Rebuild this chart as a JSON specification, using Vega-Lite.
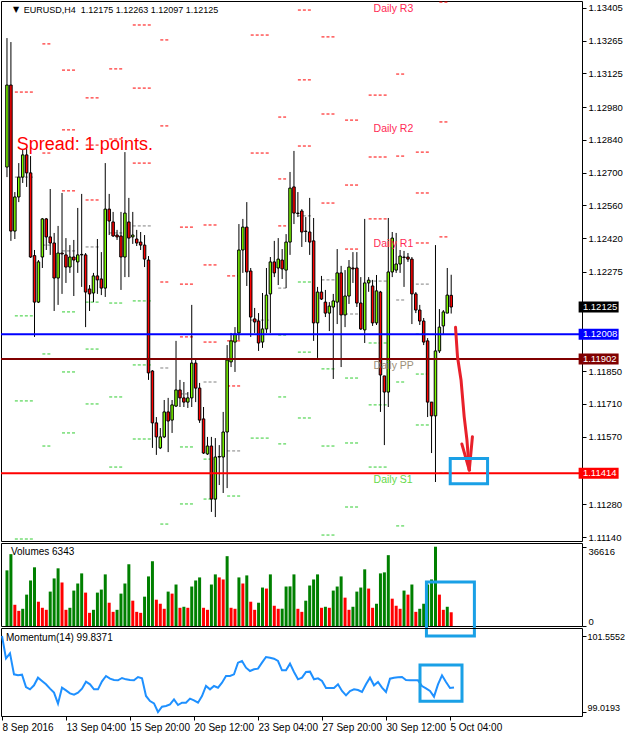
{
"$schema":"https://vega.github.io/schema/vega-lite/v6.json",
"background":"white",
"padding":{"left":-3,"top":0,"right":0,"bottom":0},
"bounds":"flush",
"spacing":2,
"config":{"view":{"stroke":"#000000","strokeWidth":1},"axis":{"labelFont":"Liberation Sans","labelFontSize":9.5,"labelColor":"#000000","tickColor":"#000000","domain":false,"grid":false,"tickSize":4,"labelPadding":2,"title":null},"text":{"font":"Liberation Sans"}},
"datasets":{
"bars":[
{"i":0,"o":1.12724,"h":1.13276,"l":1.12681,"c":1.13075,"v":25700,"u":1,"m":101.5552},
{"i":1,"o":1.13075,"h":1.13259,"l":1.12408,"c":1.12450,"v":33190,"u":1,"m":100.8101},
{"i":2,"o":1.12450,"h":1.12617,"l":1.12416,"c":1.12596,"v":9800,"u":0,"m":100.9769},
{"i":3,"o":1.12596,"h":1.12741,"l":1.12574,"c":1.12681,"v":7000,"u":0,"m":100.2762},
{"i":4,"o":1.12681,"h":1.12797,"l":1.12656,"c":1.12776,"v":7950,"u":1,"m":100.2428},
{"i":5,"o":1.12776,"h":1.12810,"l":1.12639,"c":1.12699,"v":14490,"u":1,"m":100.2651},
{"i":6,"o":1.12699,"h":1.12771,"l":1.12335,"c":1.12339,"v":21030,"u":1,"m":99.8536},
{"i":7,"o":1.12345,"h":1.12369,"l":1.11997,"c":1.12146,"v":27110,"u":1,"m":99.7757},
{"i":8,"o":1.12146,"h":1.12326,"l":1.12142,"c":1.12318,"v":11220,"u":0,"m":99.9092},
{"i":9,"o":1.12339,"h":1.12506,"l":1.12292,"c":1.12502,"v":8410,"u":0,"m":100.1650},
{"i":10,"o":1.12502,"h":1.12506,"l":1.12369,"c":1.12425,"v":7480,"u":0,"m":100.0538},
{"i":11,"o":1.12425,"h":1.12630,"l":1.12348,"c":1.12399,"v":15890,"u":1,"m":99.9425},
{"i":12,"o":1.12399,"h":1.12442,"l":1.12108,"c":1.12249,"v":21970,"u":1,"m":99.7980},
{"i":13,"o":1.12249,"h":1.12472,"l":1.12134,"c":1.12356,"v":26640,"u":1,"m":99.6645},
{"i":14,"o":1.12356,"h":1.12613,"l":1.12181,"c":1.12352,"v":20100,"u":0,"m":99.2975},
{"i":15,"o":1.12348,"h":1.12420,"l":1.12228,"c":1.12296,"v":7480,"u":0,"m":99.8313},
{"i":16,"o":1.12296,"h":1.12390,"l":1.12271,"c":1.12339,"v":8410,"u":1,"m":99.7424},
{"i":17,"o":1.12339,"h":1.12412,"l":1.12172,"c":1.12326,"v":16360,"u":1,"m":99.6423},
{"i":18,"o":1.12318,"h":1.12549,"l":1.12271,"c":1.12348,"v":19630,"u":1,"m":99.5978},
{"i":19,"o":1.12348,"h":1.12609,"l":1.12211,"c":1.12350,"v":24300,"u":1,"m":99.6645},
{"i":20,"o":1.12348,"h":1.12356,"l":1.12039,"c":1.12189,"v":15420,"u":0,"m":99.7980},
{"i":21,"o":1.12202,"h":1.12219,"l":1.12108,"c":1.12181,"v":6080,"u":0,"m":100.0315},
{"i":22,"o":1.12185,"h":1.12271,"l":1.12146,"c":1.12258,"v":7480,"u":1,"m":99.9425},
{"i":23,"o":1.12258,"h":1.12416,"l":1.12181,"c":1.12241,"v":15420,"u":1,"m":99.7757},
{"i":24,"o":1.12245,"h":1.12360,"l":1.12176,"c":1.12206,"v":16830,"u":1,"m":99.7757},
{"i":25,"o":1.12206,"h":1.12741,"l":1.12168,"c":1.12544,"v":23840,"u":1,"m":100.0426},
{"i":26,"o":1.12544,"h":1.12609,"l":1.12433,"c":1.12493,"v":10750,"u":0,"m":100.2206},
{"i":27,"o":1.12489,"h":1.12532,"l":1.12425,"c":1.12429,"v":6540,"u":0,"m":100.1316},
{"i":28,"o":1.12433,"h":1.12455,"l":1.12412,"c":1.12425,"v":7480,"u":1,"m":100.0871},
{"i":29,"o":1.12429,"h":1.12532,"l":1.12198,"c":1.12339,"v":14960,"u":1,"m":100.0760},
{"i":30,"o":1.12339,"h":1.12788,"l":1.12253,"c":1.12527,"v":19630,"u":1,"m":100.1539},
{"i":31,"o":1.12489,"h":1.12592,"l":1.12253,"c":1.12420,"v":28510,"u":1,"m":100.1094},
{"i":32,"o":1.12425,"h":1.12532,"l":1.12395,"c":1.12433,"v":11690,"u":0,"m":100.0871},
{"i":33,"o":1.12416,"h":1.12455,"l":1.12386,"c":1.12399,"v":6540,"u":0,"m":100.0760},
{"i":34,"o":1.12403,"h":1.12446,"l":1.12369,"c":1.12390,"v":6080,"u":0,"m":100.1872},
{"i":35,"o":1.12390,"h":1.12433,"l":1.12296,"c":1.12330,"v":13550,"u":1,"m":100.1427},
{"i":36,"o":1.12326,"h":1.12343,"l":1.11813,"c":1.11843,"v":22900,"u":1,"m":99.5533},
{"i":37,"o":1.11851,"h":1.11855,"l":1.11522,"c":1.11629,"v":29910,"u":1,"m":99.3864},
{"i":38,"o":1.11629,"h":1.11654,"l":1.11492,"c":1.11569,"v":12150,"u":0,"m":99.3086},
{"i":39,"o":1.11522,"h":1.11607,"l":1.11517,"c":1.11569,"v":10280,"u":0,"m":99.0193},
{"i":40,"o":1.11569,"h":1.11727,"l":1.11564,"c":1.11676,"v":7950,"u":0,"m":99.1974},
{"i":41,"o":1.11676,"h":1.11736,"l":1.11504,"c":1.11637,"v":15890,"u":1,"m":99.2196},
{"i":42,"o":1.11641,"h":1.11727,"l":1.11586,"c":1.11706,"v":14960,"u":0,"m":99.2752},
{"i":43,"o":1.11701,"h":1.11980,"l":1.11697,"c":1.11770,"v":19160,"u":1,"m":99.4421},
{"i":44,"o":1.11770,"h":1.11813,"l":1.11697,"c":1.11736,"v":8410,"u":0,"m":99.2530},
{"i":45,"o":1.11736,"h":1.11804,"l":1.11697,"c":1.11718,"v":8880,"u":1,"m":99.3308},
{"i":46,"o":1.11718,"h":1.11761,"l":1.11693,"c":1.11736,"v":8410,"u":0,"m":99.3308},
{"i":47,"o":1.11736,"h":1.12134,"l":1.11697,"c":1.11885,"v":18230,"u":1,"m":99.4643},
{"i":48,"o":1.11885,"h":1.11898,"l":1.11718,"c":1.11778,"v":21030,"u":1,"m":99.4087},
{"i":49,"o":1.11778,"h":1.11800,"l":1.11629,"c":1.11641,"v":22440,"u":1,"m":99.3308},
{"i":50,"o":1.11646,"h":1.11697,"l":1.11496,"c":1.11500,"v":8410,"u":0,"m":99.5533},
{"i":51,"o":1.11496,"h":1.11569,"l":1.11492,"c":1.11530,"v":7480,"u":0,"m":99.8869},
{"i":52,"o":1.11530,"h":1.11569,"l":1.11248,"c":1.11303,"v":19160,"u":1,"m":99.7757},
{"i":53,"o":1.11303,"h":1.11564,"l":1.11226,"c":1.11483,"v":23840,"u":1,"m":99.8869},
{"i":54,"o":1.11483,"h":1.11534,"l":1.11363,"c":1.11485,"v":22440,"u":0,"m":99.8313},
{"i":55,"o":1.11483,"h":1.11676,"l":1.11329,"c":1.11590,"v":21500,"u":0,"m":99.9982},
{"i":56,"o":1.11590,"h":1.11962,"l":1.11350,"c":1.11898,"v":32250,"u":1,"m":100.2206},
{"i":57,"o":1.11890,"h":1.12014,"l":1.11868,"c":1.11980,"v":8410,"u":0,"m":100.2206},
{"i":58,"o":1.11975,"h":1.12039,"l":1.11847,"c":1.12009,"v":7950,"u":0,"m":100.2762},
{"i":59,"o":1.12014,"h":1.12480,"l":1.11984,"c":1.12369,"v":22440,"u":1,"m":100.6655},
{"i":60,"o":1.12369,"h":1.12502,"l":1.12271,"c":1.12467,"v":19630,"u":0,"m":100.7211},
{"i":61,"o":1.12467,"h":1.12574,"l":1.12215,"c":1.12275,"v":23370,"u":1,"m":100.4986},
{"i":62,"o":1.12279,"h":1.12292,"l":1.11997,"c":1.12082,"v":11220,"u":0,"m":100.3874},
{"i":63,"o":1.12074,"h":1.12121,"l":1.12014,"c":1.12061,"v":7480,"u":0,"m":100.4430},
{"i":64,"o":1.12065,"h":1.12099,"l":1.11937,"c":1.11971,"v":10750,"u":1,"m":100.4653},
{"i":65,"o":1.11975,"h":1.12185,"l":1.11950,"c":1.12031,"v":17760,"u":1,"m":100.6655},
{"i":66,"o":1.12031,"h":1.12292,"l":1.12014,"c":1.12176,"v":17290,"u":0,"m":100.8546},
{"i":67,"o":1.12181,"h":1.12339,"l":1.12014,"c":1.12318,"v":23840,"u":1,"m":100.8323},
{"i":68,"o":1.12318,"h":1.12408,"l":1.12253,"c":1.12271,"v":9350,"u":0,"m":100.7989},
{"i":69,"o":1.12292,"h":1.12420,"l":1.12219,"c":1.12330,"v":7950,"u":0,"m":100.7211},
{"i":70,"o":1.12326,"h":1.12373,"l":1.12245,"c":1.12288,"v":8000,"u":1,"m":100.4097},
{"i":71,"o":1.12283,"h":1.12437,"l":1.12206,"c":1.12403,"v":18230,"u":1,"m":100.4097},
{"i":72,"o":1.12403,"h":1.12703,"l":1.12348,"c":1.12634,"v":18300,"u":1,"m":100.6321},
{"i":73,"o":1.12639,"h":1.12793,"l":1.12480,"c":1.12527,"v":23840,"u":1,"m":100.3541},
{"i":74,"o":1.12527,"h":1.12617,"l":1.12510,"c":1.12525,"v":7950,"u":0,"m":100.1094},
{"i":75,"o":1.12536,"h":1.12544,"l":1.12382,"c":1.12446,"v":6540,"u":0,"m":100.1650},
{"i":76,"o":1.12450,"h":1.12510,"l":1.12403,"c":1.12448,"v":11690,"u":1,"m":100.3541},
{"i":77,"o":1.12446,"h":1.12592,"l":1.12348,"c":1.12403,"v":18700,"u":1,"m":100.3652},
{"i":78,"o":1.12408,"h":1.12506,"l":1.11980,"c":1.12057,"v":21500,"u":1,"m":100.1094},
{"i":79,"o":1.12057,"h":1.12211,"l":1.11907,"c":1.12189,"v":23840,"u":1,"m":100.1427},
{"i":80,"o":1.12189,"h":1.12258,"l":1.12155,"c":1.12159,"v":8410,"u":0,"m":100.0538},
{"i":81,"o":1.12146,"h":1.12198,"l":1.12082,"c":1.12099,"v":8880,"u":1,"m":99.8202},
{"i":82,"o":1.12099,"h":1.12146,"l":1.12022,"c":1.12129,"v":8410,"u":0,"m":99.8202},
{"i":83,"o":1.12125,"h":1.12181,"l":1.11817,"c":1.12151,"v":16360,"u":1,"m":99.8202},
{"i":84,"o":1.12146,"h":1.12373,"l":1.12052,"c":1.12271,"v":18230,"u":1,"m":99.9425},
{"i":85,"o":1.12271,"h":1.12301,"l":1.11868,"c":1.12091,"v":22900,"u":1,"m":99.7201},
{"i":86,"o":1.12091,"h":1.12283,"l":1.12039,"c":1.12172,"v":13090,"u":0,"m":99.5755},
{"i":87,"o":1.12172,"h":1.12326,"l":1.12138,"c":1.12296,"v":7480,"u":0,"m":99.7201},
{"i":88,"o":1.12292,"h":1.12360,"l":1.12228,"c":1.12288,"v":8880,"u":1,"m":99.7757},
{"i":89,"o":1.12292,"h":1.12360,"l":1.12125,"c":1.12142,"v":15890,"u":1,"m":99.7535},
{"i":90,"o":1.12142,"h":1.12253,"l":1.12027,"c":1.12031,"v":17760,"u":1,"m":99.6867},
{"i":91,"o":1.12027,"h":1.12502,"l":1.11971,"c":1.12228,"v":26170,"u":1,"m":99.9425},
{"i":92,"o":1.12228,"h":1.12253,"l":1.12190,"c":1.12240,"v":17290,"u":0,"m":100.1650},
{"i":93,"o":1.12215,"h":1.12241,"l":1.12044,"c":1.12057,"v":8410,"u":0,"m":99.9092},
{"i":94,"o":1.12057,"h":1.12262,"l":1.12048,"c":1.12194,"v":10280,"u":1,"m":100.0204},
{"i":95,"o":1.12189,"h":1.12194,"l":1.11676,"c":1.11834,"v":24300,"u":1,"m":99.8313},
{"i":96,"o":1.11830,"h":1.11830,"l":1.11534,"c":1.11761,"v":24770,"u":1,"m":99.6867},
{"i":97,"o":1.11761,"h":1.12506,"l":1.11697,"c":1.12275,"v":32720,"u":1,"m":100.1316},
{"i":98,"o":1.12275,"h":1.12446,"l":1.12253,"c":1.12420,"v":12620,"u":0,"m":100.1650},
{"i":99,"o":1.12283,"h":1.12442,"l":1.12271,"c":1.12309,"v":9350,"u":0,"m":100.1761},
{"i":100,"o":1.12309,"h":1.12369,"l":1.12271,"c":1.12343,"v":7950,"u":0,"m":100.1872},
{"i":101,"o":1.12339,"h":1.12365,"l":1.12211,"c":1.12337,"v":16360,"u":1,"m":100.0871},
{"i":102,"o":1.12339,"h":1.12356,"l":1.12318,"c":1.12330,"v":14490,"u":0,"m":100.0760},
{"i":103,"o":1.12330,"h":1.12339,"l":1.12052,"c":1.12181,"v":19160,"u":1,"m":100.0760},
{"i":104,"o":1.12181,"h":1.12189,"l":1.12099,"c":1.12112,"v":6540,"u":0,"m":100.0760},
{"i":105,"o":1.12112,"h":1.12134,"l":1.12048,"c":1.12065,"v":7950,"u":1,"m":99.8869},
{"i":106,"o":1.12065,"h":1.12078,"l":1.11962,"c":1.11975,"v":10280,"u":1,"m":99.8091},
{"i":107,"o":1.11980,"h":1.11992,"l":1.11654,"c":1.11718,"v":19160,"u":1,"m":99.7201},
{"i":108,"o":1.11718,"h":1.11718,"l":1.11500,"c":1.11659,"v":21500,"u":1,"m":99.5310},
{"i":109,"o":1.11659,"h":1.12390,"l":1.11376,"c":1.11937,"v":36616,"u":1,"m":99.9425},
{"i":110,"o":1.11937,"h":1.12116,"l":1.11928,"c":1.12039,"v":14490,"u":0,"m":100.2428},
{"i":111,"o":1.12044,"h":1.12112,"l":1.12005,"c":1.12104,"v":7480,"u":0,"m":100.0204},
{"i":112,"o":1.12099,"h":1.12292,"l":1.12099,"c":1.12176,"v":8880,"u":1,"m":99.8202},
{"i":113,"o":1.12175,"h":1.12263,"l":1.12097,"c":1.12125,"v":6343,"u":0,"m":99.8371}
],
"piv":[
{"s":2,"e":7,"t":"R","p":1.13045},{"s":2,"e":7,"t":"P","p":1.12681},{"s":2,"e":7,"t":"S","p":1.12087},{"s":2,"e":7,"t":"S","p":1.11723},{"s":2,"e":7,"t":"S","p":1.11132},
{"s":9,"e":11.25,"t":"R","p":1.13251},{"s":9,"e":11.25,"t":"R","p":1.12784},{"s":9,"e":11.25,"t":"P","p":1.12390},{"s":9,"e":11.25,"t":"S","p":1.11924},{"s":9,"e":11.25,"t":"S","p":1.11530},
{"s":14,"e":17.75,"t":"R","p":1.13139},{"s":14,"e":17.75,"t":"R","p":1.12883},{"s":14,"e":17.75,"t":"R","p":1.12622},{"s":14,"e":17.75,"t":"P","p":1.12365},{"s":14,"e":17.75,"t":"S","p":1.12104},{"s":14,"e":17.75,"t":"S","p":1.11847},{"s":14,"e":17.75,"t":"S","p":1.11586},
{"s":20,"e":23.75,"t":"R","p":1.13020},{"s":20,"e":23.75,"t":"R","p":1.12818},{"s":20,"e":23.75,"t":"R","p":1.12583},{"s":20,"e":23.75,"t":"P","p":1.12382},{"s":20,"e":23.75,"t":"S","p":1.12146},{"s":20,"e":23.75,"t":"S","p":1.11945},{"s":20,"e":23.75,"t":"S","p":1.11710},
{"s":26,"e":29.75,"t":"R","p":1.13144},{"s":26,"e":29.75,"t":"R","p":1.12844},{"s":26,"e":29.75,"t":"P","p":1.12442},{"s":26,"e":29.75,"t":"S","p":1.12142},{"s":26,"e":29.75,"t":"S","p":1.11740},{"s":26,"e":29.75,"t":"S","p":1.11440},
{"s":32,"e":37,"t":"R","p":1.13332},{"s":32,"e":37,"t":"R","p":1.13062},{"s":32,"e":37,"t":"R","p":1.12741},{"s":32,"e":37,"t":"P","p":1.12472},{"s":32,"e":37,"t":"S","p":1.12151},{"s":32,"e":37,"t":"S","p":1.11877},{"s":32,"e":37,"t":"S","p":1.11560},
{"s":39,"e":41.25,"t":"R","p":1.13268},{"s":39,"e":41.25,"t":"R","p":1.12900},{"s":39,"e":41.25,"t":"R","p":1.12232},{"s":39,"e":41.25,"t":"P","p":1.11864},{"s":39,"e":41.25,"t":"S","p":1.11196},
{"s":44,"e":47.75,"t":"R","p":1.12467},{"s":44,"e":47.75,"t":"R","p":1.12223},{"s":44,"e":47.75,"t":"R","p":1.11997},{"s":44,"e":47.75,"t":"P","p":1.11753},{"s":44,"e":47.75,"t":"S","p":1.11526},{"s":44,"e":47.75,"t":"S","p":1.11282},
{"s":50,"e":53.75,"t":"R","p":1.12476},{"s":50,"e":53.75,"t":"R","p":1.12305},{"s":50,"e":53.75,"t":"R","p":1.11975},{"s":50,"e":53.75,"t":"P","p":1.11804},{"s":50,"e":53.75,"t":"S","p":1.11474},{"s":50,"e":53.75,"t":"S","p":1.11303},
{"s":56,"e":59.75,"t":"R","p":1.12258},{"s":56,"e":59.75,"t":"R","p":1.11980},{"s":56,"e":59.75,"t":"R","p":1.11787},{"s":56,"e":59.75,"t":"P","p":1.11509},{"s":56,"e":59.75,"t":"S","p":1.11316},
{"s":62,"e":67,"t":"R","p":1.13289},{"s":62,"e":67,"t":"R","p":1.12784},{"s":62,"e":67,"t":"P","p":1.12069},{"s":62,"e":67,"t":"S","p":1.11564},
{"s":69,"e":71,"t":"R","p":1.12938},{"s":69,"e":71,"t":"R","p":1.12673},{"s":69,"e":71,"t":"R","p":1.12472},{"s":69,"e":71,"t":"P","p":1.12206},{"s":69,"e":71,"t":"S","p":1.12005},{"s":69,"e":71,"t":"S","p":1.11740},{"s":69,"e":71,"t":"S","p":1.11539},
{"s":74,"e":77.75,"t":"R","p":1.13396},{"s":74,"e":77.75,"t":"R","p":1.13097},{"s":74,"e":77.75,"t":"R","p":1.12814},{"s":74,"e":77.75,"t":"P","p":1.12515},{"s":74,"e":77.75,"t":"S","p":1.12232},{"s":74,"e":77.75,"t":"S","p":1.11932},{"s":74,"e":77.75,"t":"S","p":1.11650},
{"s":80,"e":83.75,"t":"R","p":1.13281},{"s":80,"e":83.75,"t":"R","p":1.12951},{"s":80,"e":83.75,"t":"R","p":1.12570},{"s":80,"e":83.75,"t":"P","p":1.12241},{"s":80,"e":83.75,"t":"S","p":1.11860},{"s":80,"e":83.75,"t":"S","p":1.11530},{"s":80,"e":83.75,"t":"S","p":1.11149},
{"s":86,"e":89.75,"t":"R","p":1.12925},{"s":86,"e":89.75,"t":"R","p":1.12647},{"s":86,"e":89.75,"t":"R","p":1.12373},{"s":86,"e":89.75,"t":"P","p":1.12095},{"s":86,"e":89.75,"t":"S","p":1.11821},{"s":86,"e":89.75,"t":"S","p":1.11543},{"s":86,"e":89.75,"t":"S","p":1.11269},
{"s":92,"e":97,"t":"R","p":1.13032},{"s":92,"e":97,"t":"R","p":1.12767},{"s":92,"e":97,"t":"R","p":1.12502},{"s":92,"e":97,"t":"P","p":1.12236},{"s":92,"e":97,"t":"S","p":1.11971},{"s":92,"e":97,"t":"S","p":1.11706},{"s":92,"e":97,"t":"S","p":1.11440},
{"s":99,"e":101.25,"t":"R","p":1.13122},{"s":99,"e":101.25,"t":"R","p":1.12771},{"s":99,"e":101.25,"t":"P","p":1.12155},{"s":99,"e":101.25,"t":"S","p":1.11804},{"s":99,"e":101.25,"t":"S","p":1.11188},
{"s":104,"e":107.75,"t":"R","p":1.12788},{"s":104,"e":107.75,"t":"R","p":1.12613},{"s":104,"e":107.75,"t":"R","p":1.12399},{"s":104,"e":107.75,"t":"P","p":1.12223},{"s":104,"e":107.75,"t":"S","p":1.12009},{"s":104,"e":107.75,"t":"S","p":1.11838},{"s":104,"e":107.75,"t":"S","p":1.11620},
{"s":110,"e":112.25,"t":"R","p":1.13430},{"s":110,"e":112.25,"t":"R","p":1.12917},{"s":110,"e":112.25,"t":"R","p":1.12425},{"s":110,"e":112.25,"t":"P","p":1.11902},{"s":110,"e":112.25,"t":"S","p":1.11414}
],
"arrow":[
{"g":"a","k":0,"i":114.1,"p":1.12038},{"g":"a","k":1,"i":114.6,"p":1.11912},{"g":"a","k":2,"i":115.5,"p":1.11813},{"g":"a","k":3,"i":116.3,"p":1.11656},{"g":"a","k":4,"i":117,"p":1.11556},{"g":"a","k":5,"i":117.6,"p":1.11427},
{"g":"b","k":0,"i":115.7,"p":1.11539},{"g":"b","k":1,"i":117.6,"p":1.11427},
{"g":"c","k":0,"i":118.4,"p":1.11570},{"g":"c","k":1,"i":117.6,"p":1.11427}
]
},
"vconcat":[
{
"width":581,"height":540,
"resolve":{"scale":{"color":"independent","fill":"independent"}},
"layer":[
{"data":{"name":"piv"},"mark":{"type":"rule","strokeDash":[3,2],"strokeWidth":1},
"encoding":{"x":{"field":"s","type":"quantitative","scale":{"domain":[-0.25,145],"nice":false,"zero":false},"axis":null},"x2":{"field":"e"},
"y":{"field":"p","type":"quantitative","title":null,"scale":{"domain":[1.111235,1.134347],"nice":false,"zero":false},"axis":{"orient":"right","values":[1.13405,1.13265,1.13125,1.1298,1.1284,1.127,1.1256,1.1242,1.12275,1.1185,1.1171,1.1157,1.1128,1.1114],"format":".5f","title":null}},
"color":{"field":"t","type":"nominal","scale":{"domain":["R","P","S"],"range":["#ff0000","#808080","#32cd32"]},"legend":null}}},
{"data":{"name":"bars"},"mark":{"type":"rule","color":"#000000","strokeWidth":1},
"encoding":{"x":{"field":"i","type":"quantitative"},"y":{"field":"l","type":"quantitative","title":null},"y2":{"field":"h"}}},
{"data":{"name":"bars"},"mark":{"type":"bar","size":2.5,"stroke":"#000000","strokeWidth":1},
"encoding":{"x":{"field":"i","type":"quantitative"},"y":{"field":"o","type":"quantitative","title":null},"y2":{"field":"c"},
"fill":{"condition":{"test":"datum.c >= datum.o","value":"#7cfc00"},"value":"#ff0000"}}},
{"data":{"values":[{"p":1.12008,"k":"B"},{"p":1.11902,"k":"D"},{"p":1.11414,"k":"R"}]},"mark":{"type":"rule","strokeWidth":2},
"encoding":{"y":{"field":"p","type":"quantitative","title":null},"color":{"field":"k","type":"nominal","scale":{"domain":["B","D","R"],"range":["#0000ff","#800000","#ff0000"]},"legend":null}}},
{"data":{"values":[{"p":1.13430,"txt":"Daily R3","k":"R"},{"p":1.12917,"txt":"Daily R2","k":"R"},{"p":1.12425,"txt":"Daily R1","k":"R"},{"p":1.11902,"txt":"Daily PP","k":"P"},{"p":1.11414,"txt":"Daily S1","k":"S"}]},
"mark":{"type":"text","align":"left","baseline":"top","dy":2,"fontSize":10.5,"font":"Liberation Sans"},
"encoding":{"x":{"datum":93.25,"type":"quantitative"},"y":{"field":"p","type":"quantitative","title":null},"text":{"field":"txt"},
"color":{"field":"k","type":"nominal","scale":{"domain":["R","P","S"],"range":["#ff2a55","#9c8f7a","#66d94a"]},"legend":null}}},
{"data":{"values":[{"txt":"Spread: 1 points."}]},"mark":{"type":"text","align":"left","baseline":"middle","fontSize":18,"color":"#ff0000","font":"Liberation Sans"},
"encoding":{"x":{"datum":2.5,"type":"quantitative"},"y":{"datum":1.12818,"type":"quantitative"},"text":{"field":"txt"}}},
{"data":{"values":[{"txt":"EURUSD,H4\u00a0\u00a01.12175 1.12263 1.12097 1.12125"}]},"mark":{"type":"text","align":"left","baseline":"middle","fontSize":9,"color":"#000000","font":"Liberation Sans"},
"encoding":{"x":{"datum":4.25,"type":"quantitative"},"y":{"datum":1.13396,"type":"quantitative"},"text":{"field":"txt"}}},
{"data":{"values":[{"txt":"\u25bc"}]},"mark":{"type":"text","align":"left","baseline":"middle","fontSize":8,"color":"#000000","font":"DejaVu Sans"},
"encoding":{"x":{"datum":1.5,"type":"quantitative"},"y":{"datum":1.13396,"type":"quantitative"},"text":{"field":"txt"}}},
{"data":{"values":[{"p":1.12125,"k":"bid"},{"p":1.12008,"k":"B"},{"p":1.11902,"k":"D"},{"p":1.11414,"k":"R"}]},
"mark":{"type":"point","filled":true,"opacity":1,"shape":"M-1,-0.275L1,-0.275L1,0.275L-1,0.275Z","size":1600},
"encoding":{"x":{"datum":150.5,"type":"quantitative"},"y":{"field":"p","type":"quantitative","title":null},
"fill":{"field":"k","type":"nominal","scale":{"domain":["bid","B","D","R"],"range":["#000000","#0000ff","#800000","#ff0000"]},"legend":null}}},
{"data":{"values":[{"p":1.12125},{"p":1.12008},{"p":1.11902},{"p":1.11414}]},
"mark":{"type":"text","align":"left","baseline":"middle","fontSize":9.5,"color":"#ffffff","font":"Liberation Sans"},
"encoding":{"x":{"datum":146.5,"type":"quantitative"},"y":{"field":"p","type":"quantitative","title":null},"text":{"field":"p","format":".5f"}}},
{"data":{"name":"arrow"},"mark":{"type":"line","color":"#e8202a","strokeWidth":3,"strokeCap":"round","strokeJoin":"round"},
"encoding":{"x":{"field":"i","type":"quantitative"},"y":{"field":"p","type":"quantitative","title":null},"detail":{"field":"g"},"order":{"field":"k"}}},
{"data":{"values":[{}]},"mark":{"type":"rect","filled":false,"stroke":"#1aa0e6","strokeWidth":3},
"encoding":{"x":{"datum":112.75,"type":"quantitative"},"x2":{"datum":122.25},"y":{"datum":1.11477,"type":"quantitative"},"y2":{"datum":1.11368}}}
]
},
{
"width":581,"height":83,
"layer":[
{"data":{"name":"bars"},"mark":{"type":"bar","size":3},
"encoding":{"x":{"field":"i","type":"quantitative","scale":{"domain":[-0.25,145],"nice":false,"zero":false},"axis":null},
"y":{"field":"v","type":"quantitative","title":null,"scale":{"domain":[0,38335],"nice":false},"axis":{"orient":"right","values":[0,36616],"format":"d","title":null,"labelBaseline":{"condition":{"test":"datum.value > 0","value":"top"},"value":"bottom"}}},
"color":{"field":"u","type":"nominal","scale":{"domain":[1,0],"range":["#008000","#ff0000"]},"legend":null}}},
{"data":{"values":[{"txt":"Volumes 6343"}]},"mark":{"type":"text","align":"left","baseline":"middle","fontSize":10,"color":"#000000","font":"Liberation Sans"},
"encoding":{"x":{"datum":1,"type":"quantitative"},"y":{"datum":34400,"type":"quantitative"},"text":{"field":"txt"}}},
{"data":{"values":[{}]},"mark":{"type":"rect","filled":false,"stroke":"#1aa0e6","strokeWidth":3},
"encoding":{"x":{"datum":106.7,"type":"quantitative"},"x2":{"datum":118.9},"y":{"datum":20324,"type":"quantitative"},"y2":{"datum":-4619}}}
]
},
{
"width":581,"height":88,
"layer":[
{"data":{"name":"bars"},"mark":{"type":"line","color":"#1e90ff","strokeWidth":2},
"encoding":{"x":{"field":"i","type":"quantitative","scale":{"domain":[-0.25,145],"nice":false,"zero":false},
"axis":{"orient":"bottom","values":[0,16,32,48,64,80,96,112],"labelExpr":"['8 Sep 2016','13 Sep 04:00','15 Sep 20:00','20 Sep 12:00','23 Sep 04:00','27 Sep 20:00','30 Sep 12:00','5 Oct 04:00'][round(datum.value/16)]","labelAlign":"left","labelFontSize":10,"labelOverlap":false,"labelFlush":false,"title":null}},
"y":{"field":"m","type":"quantitative","title":null,"scale":{"domain":[98.8859,101.8222],"nice":false,"zero":false},"axis":{"orient":"right","values":[99.0193,101.5552],"format":".4f","title":null,"labelFontSize":9,"labelPadding":1,"labelBaseline":{"condition":{"test":"datum.value > 100","value":"middle"},"value":"bottom"}}}}},
{"data":{"values":[{"txt":"Momentum(14) 99.8371"}]},"mark":{"type":"text","align":"left","baseline":"middle","fontSize":10,"color":"#000000","font":"Liberation Sans"},
"encoding":{"x":{"datum":1,"type":"quantitative"},"y":{"datum":101.4885,"type":"quantitative"},"text":{"field":"txt"}}},
{"data":{"values":[{}]},"mark":{"type":"rect","filled":false,"stroke":"#1aa0e6","strokeWidth":3},
"encoding":{"x":{"datum":104.5,"type":"quantitative"},"x2":{"datum":115},"y":{"datum":100.5876,"type":"quantitative"},"y2":{"datum":99.3764}}}
]
}
]
}
